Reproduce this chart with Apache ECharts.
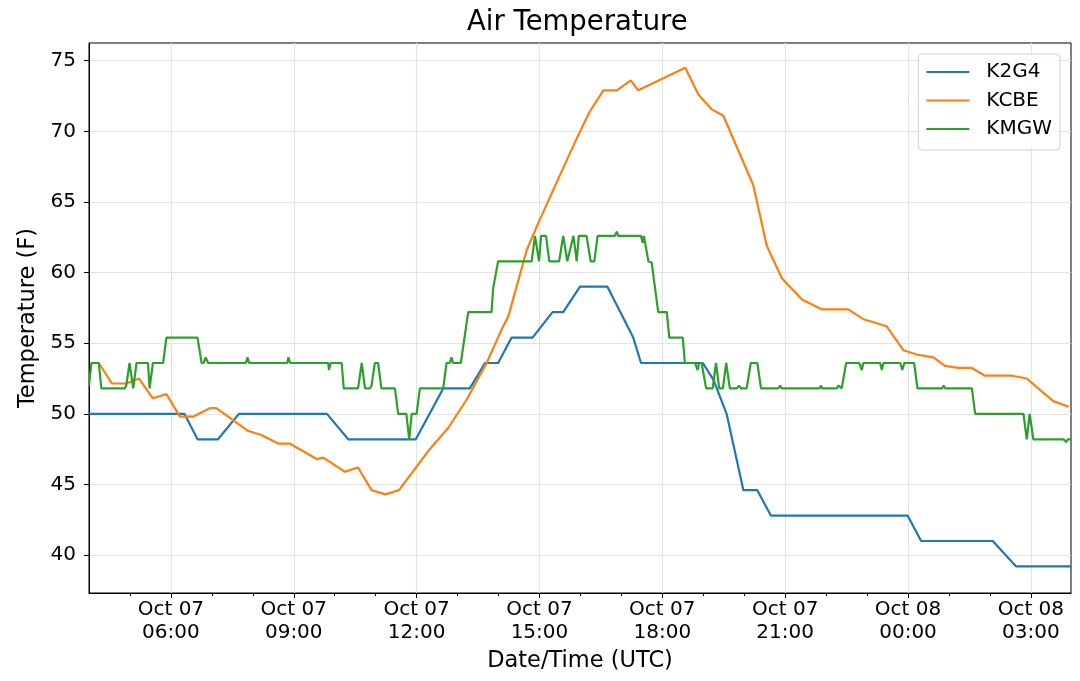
<!DOCTYPE html>
<html>
<head>
<meta charset="utf-8">
<script src="https://cdn.jsdelivr.net/npm/echarts@6/dist/echarts.min.js"></script>
<style>
  html, body { margin: 0; padding: 0; background: #fff; }
  #chart { width: 1080px; height: 681px; }
</style>
</head>
<body>
<div id="chart"></div>
<script>
// hours since Oct 07 00:00 UTC, temperature in F
const k2g4Hours = [4.0, 6.33, 6.65, 7.15, 7.66, 9.81, 10.33, 11.98, 12.65, 13.3, 13.67, 13.99, 14.32, 14.83,
    15.32, 15.58, 15.99, 16.66, 17.29, 17.48, 18.99, 19.25, 19.57, 19.98, 20.32, 20.65, 23.99, 24.32, 26.07, 26.64, 27.98];
const k2g4Temps = [50, 50, 48.2, 48.2, 50, 50, 48.2, 48.2, 51.8, 51.8, 53.6, 53.6, 55.4, 55.4,
    57.2, 57.2, 59, 59, 55.4, 53.6, 53.6, 52.4, 50, 44.6, 44.6, 42.8, 42.8, 41, 41, 39.2, 39.2];

const kcbeHours = [4.24, 4.56, 4.91, 5.22, 5.56, 5.89, 6.22, 6.54, 6.95, 7.11, 7.88, 8.21, 8.62, 8.9,
    9.56, 9.72, 10.25, 10.57, 10.9, 11.24, 11.57, 12.32, 12.77, 13.22, 13.71, 14.08, 14.24, 14.69,
    14.97, 15.5, 15.91, 16.23, 16.56, 16.89, 17.23, 17.41, 18.56, 18.88, 19.21, 19.49, 20.22, 20.55,
    20.92, 21.41, 21.89, 22.54, 22.91, 23.48, 23.89, 24.21, 24.62, 24.9, 25.23, 25.56, 25.88, 26.54,
    26.9, 27.22, 27.55, 27.92];
const kcbeTemps = [53.6, 52.15, 52.15, 52.5, 51.1, 51.4, 49.8, 49.8, 50.4, 50.4, 48.8, 48.5, 47.9, 47.9,
    46.8, 46.9, 45.9, 46.2, 44.6, 44.3, 44.6, 47.5, 49.0, 51.0, 53.6, 56.0, 56.9, 61.6,
    63.5, 66.9, 69.5, 71.4, 72.9, 72.9, 73.6, 72.9, 74.5, 72.6, 71.55, 71.1, 66.2, 61.9,
    59.6, 58.1, 57.4, 57.4, 56.7, 56.2, 54.5, 54.2, 54.0, 53.4, 53.25, 53.25, 52.7, 52.7,
    52.5, 51.7, 50.9, 50.5];

const kmgwHours = [4.0, 4.06, 4.24, 4.3, 4.87, 4.91, 4.99, 5.08, 5.16, 5.44, 5.48, 5.56, 5.81, 5.89,
    6.65, 6.75, 6.8, 6.85, 6.91, 7.83, 7.87, 7.91, 8.84, 8.87, 8.91, 9.84, 9.86, 9.9,
    10.17, 10.22, 10.57, 10.66, 10.74, 10.86, 10.9, 10.98, 11.06, 11.14, 11.47, 11.55, 11.75, 11.82,
    11.88, 12.0, 12.08, 12.65, 12.73, 12.81, 12.85, 12.89, 13.08, 13.26, 13.83, 13.87, 13.99,
    14.81, 14.89, 14.99, 15.04, 15.16, 15.24, 15.48, 15.58, 15.68, 15.83, 15.91, 15.96, 16.15,
    16.25, 16.34, 16.42, 16.84, 16.89, 16.92, 17.48, 17.52, 17.55, 17.58, 17.66, 17.7, 17.74,
    17.9, 18.11, 18.17, 18.5, 18.55, 18.8, 18.86, 18.9, 18.96, 19.07, 19.23, 19.31, 19.39,
    19.48, 19.56, 19.65, 19.82, 19.87, 19.92, 20.06, 20.16, 20.32, 20.41, 20.83, 20.88, 20.92,
    21.84, 21.87, 21.91, 22.26, 22.3, 22.38, 22.49, 22.81, 22.87, 22.91, 23.32, 23.36, 23.4,
    23.81, 23.86, 23.91, 24.15, 24.23, 24.83, 24.87, 24.91, 25.56, 25.64, 26.82, 26.9, 26.97,
    27.06, 27.8, 27.86, 27.9, 27.98];
const kmgwTemps = [52.0, 53.6, 53.6, 51.8, 51.8, 52.0, 53.6, 51.8, 53.6, 53.6, 51.8, 53.6, 53.6, 55.4,
    55.4, 53.6, 53.6, 54.0, 53.6, 53.6, 54.0, 53.6, 53.6, 54.0, 53.6, 53.6, 53.1, 53.6,
    53.6, 51.8, 51.8, 53.6, 51.8, 51.8, 52.0, 53.6, 53.6, 51.8, 51.8, 50.0, 50.0, 48.2,
    50.0, 50.0, 51.8, 51.8, 53.6, 53.6, 54.0, 53.6, 53.6, 57.2, 57.2, 58.9, 60.8,
    60.8, 62.6, 60.8, 62.6, 62.6, 60.8, 60.8, 62.6, 60.8, 62.6, 60.8, 62.6, 62.6,
    60.8, 60.8, 62.6, 62.6, 62.9, 62.6, 62.6, 62.1, 62.6, 62.6, 60.8, 60.8, 60.7,
    57.2, 57.2, 55.4, 55.4, 53.6, 53.6, 53.1, 53.6, 53.6, 51.8, 51.8, 53.6, 51.8,
    51.8, 53.6, 51.8, 51.8, 52.0, 51.8, 51.8, 53.6, 53.6, 51.8, 51.8, 52.0, 51.8,
    51.8, 52.0, 51.8, 51.8, 52.0, 51.8, 53.6, 53.6, 53.1, 53.6, 53.6, 53.1, 53.6,
    53.6, 53.1, 53.6, 53.6, 51.8, 51.8, 52.0, 51.8, 51.8, 50.0, 50.0, 48.2, 50.0,
    48.2, 48.2, 48.0, 48.2, 48.2];

const stationNames = ['K2G4', 'KCBE', 'KMGW'];
const stationColors = ['#1f77b4', '#ff7f0e', '#2ca02c'];

const majorHours = [6, 9, 12, 15, 18, 21, 24, 27];
const minorHours = [5, 7, 8, 10, 11, 13, 14, 16, 17, 19, 20, 22, 23, 25, 26];
const yTicks = [40, 45, 50, 55, 60, 65, 70, 75];

const xMin = 4, xMax = 27.98;
const yMin = 37.32, yMax = 76.25;

const FONT = 'DejaVu Sans';

function zip(xs, ys) {
    return xs.map((x, i) => [x, ys[i]]);
}

// 时间标签
function hourLabel(h) {
    const day = h >= 24 ? '08' : '07';
    const hh = String(Math.round(h) % 24).padStart(2, '0');
    return 'Oct ' + day + '\n' + hh + ':00';
}

const chart = echarts.init(document.getElementById('chart'));

const seriesData = [zip(k2g4Hours, k2g4Temps), zip(kcbeHours, kcbeTemps), zip(kmgwHours, kmgwTemps)];

const option = {
    animation: false,
    backgroundColor: '#fff',
    title: {
        text: 'Air Temperature',
        left: 467,
        top: 9,
        padding: 0,
        textStyle: { fontFamily: FONT, fontSize: 27.5, fontWeight: 'normal', color: '#000' }
    },
    legend: {
        orient: 'vertical',
        right: 20,
        top: 54,
        padding: [8, 8, 11, 8],
        itemGap: 8.5,
        itemWidth: 43,
        itemHeight: 2,
        icon: 'rect',
        backgroundColor: 'rgba(255,255,255,0.8)',
        borderColor: '#d0d0d0',
        borderWidth: 1,
        borderRadius: 4,
        data: stationNames,
        textStyle: { fontFamily: FONT, fontSize: 20, color: '#000', lineHeight: 20, padding: [0, 0, 0, 12] }
    },
    grid: {
        left: 89,
        right: 9,
        top: 43,
        bottom: 88,
        show: true,
        borderColor: '#000',
        borderWidth: 1
    },
    xAxis: [
        {
            type: 'value',
            min: xMin,
            max: xMax,
            name: 'Date/Time (UTC)',
            nameLocation: 'middle',
            nameGap: 57,
            nameTextStyle: { fontFamily: FONT, fontSize: 22.5, color: '#000' },
            axisLine: { lineStyle: { color: '#000', width: 1 } },
            axisTick: { customValues: majorHours, length: 5, lineStyle: { color: '#000' } },
            axisLabel: {
                customValues: majorHours,
                formatter: hourLabel,
                margin: 5,
                fontFamily: FONT,
                fontSize: 20,
                lineHeight: 23,
                color: '#000'
            },
            splitLine: { show: true, lineStyle: { color: '#e4e4e4', width: 1.2 } }
        },
        {
            type: 'value',
            min: xMin,
            max: xMax,
            position: 'bottom',
            offset: 0,
            axisLine: { show: false },
            axisTick: { customValues: minorHours, length: 3, lineStyle: { color: '#000' } },
            axisLabel: { show: false },
            splitLine: { show: false }
        }
    ],
    yAxis: {
        type: 'value',
        min: yMin,
        max: yMax,
        name: 'Temperature (F)',
        nameLocation: 'middle',
        nameGap: 42,
        nameTextStyle: { fontFamily: FONT, fontSize: 22.5, color: '#000' },
        axisLine: { show: true, lineStyle: { color: '#000', width: 1 } },
        axisTick: { show: true, customValues: yTicks, length: 5, lineStyle: { color: '#000' } },
        axisLabel: {
            customValues: yTicks,
            margin: 13,
            fontFamily: FONT,
            fontSize: 20,
            color: '#000'
        },
        splitLine: { show: true, lineStyle: { color: '#e4e4e4', width: 1.2 } }
    },
    series: stationNames.map((name, i) => ({
        name: name,
        type: 'line',
        xAxisIndex: 0,
        data: seriesData[i],
        symbol: 'none',
        showSymbol: false,
        color: stationColors[i],
        lineStyle: { width: 2.2, color: stationColors[i] }
    }))
};

chart.setOption(option);
</script>
</body>
</html>
